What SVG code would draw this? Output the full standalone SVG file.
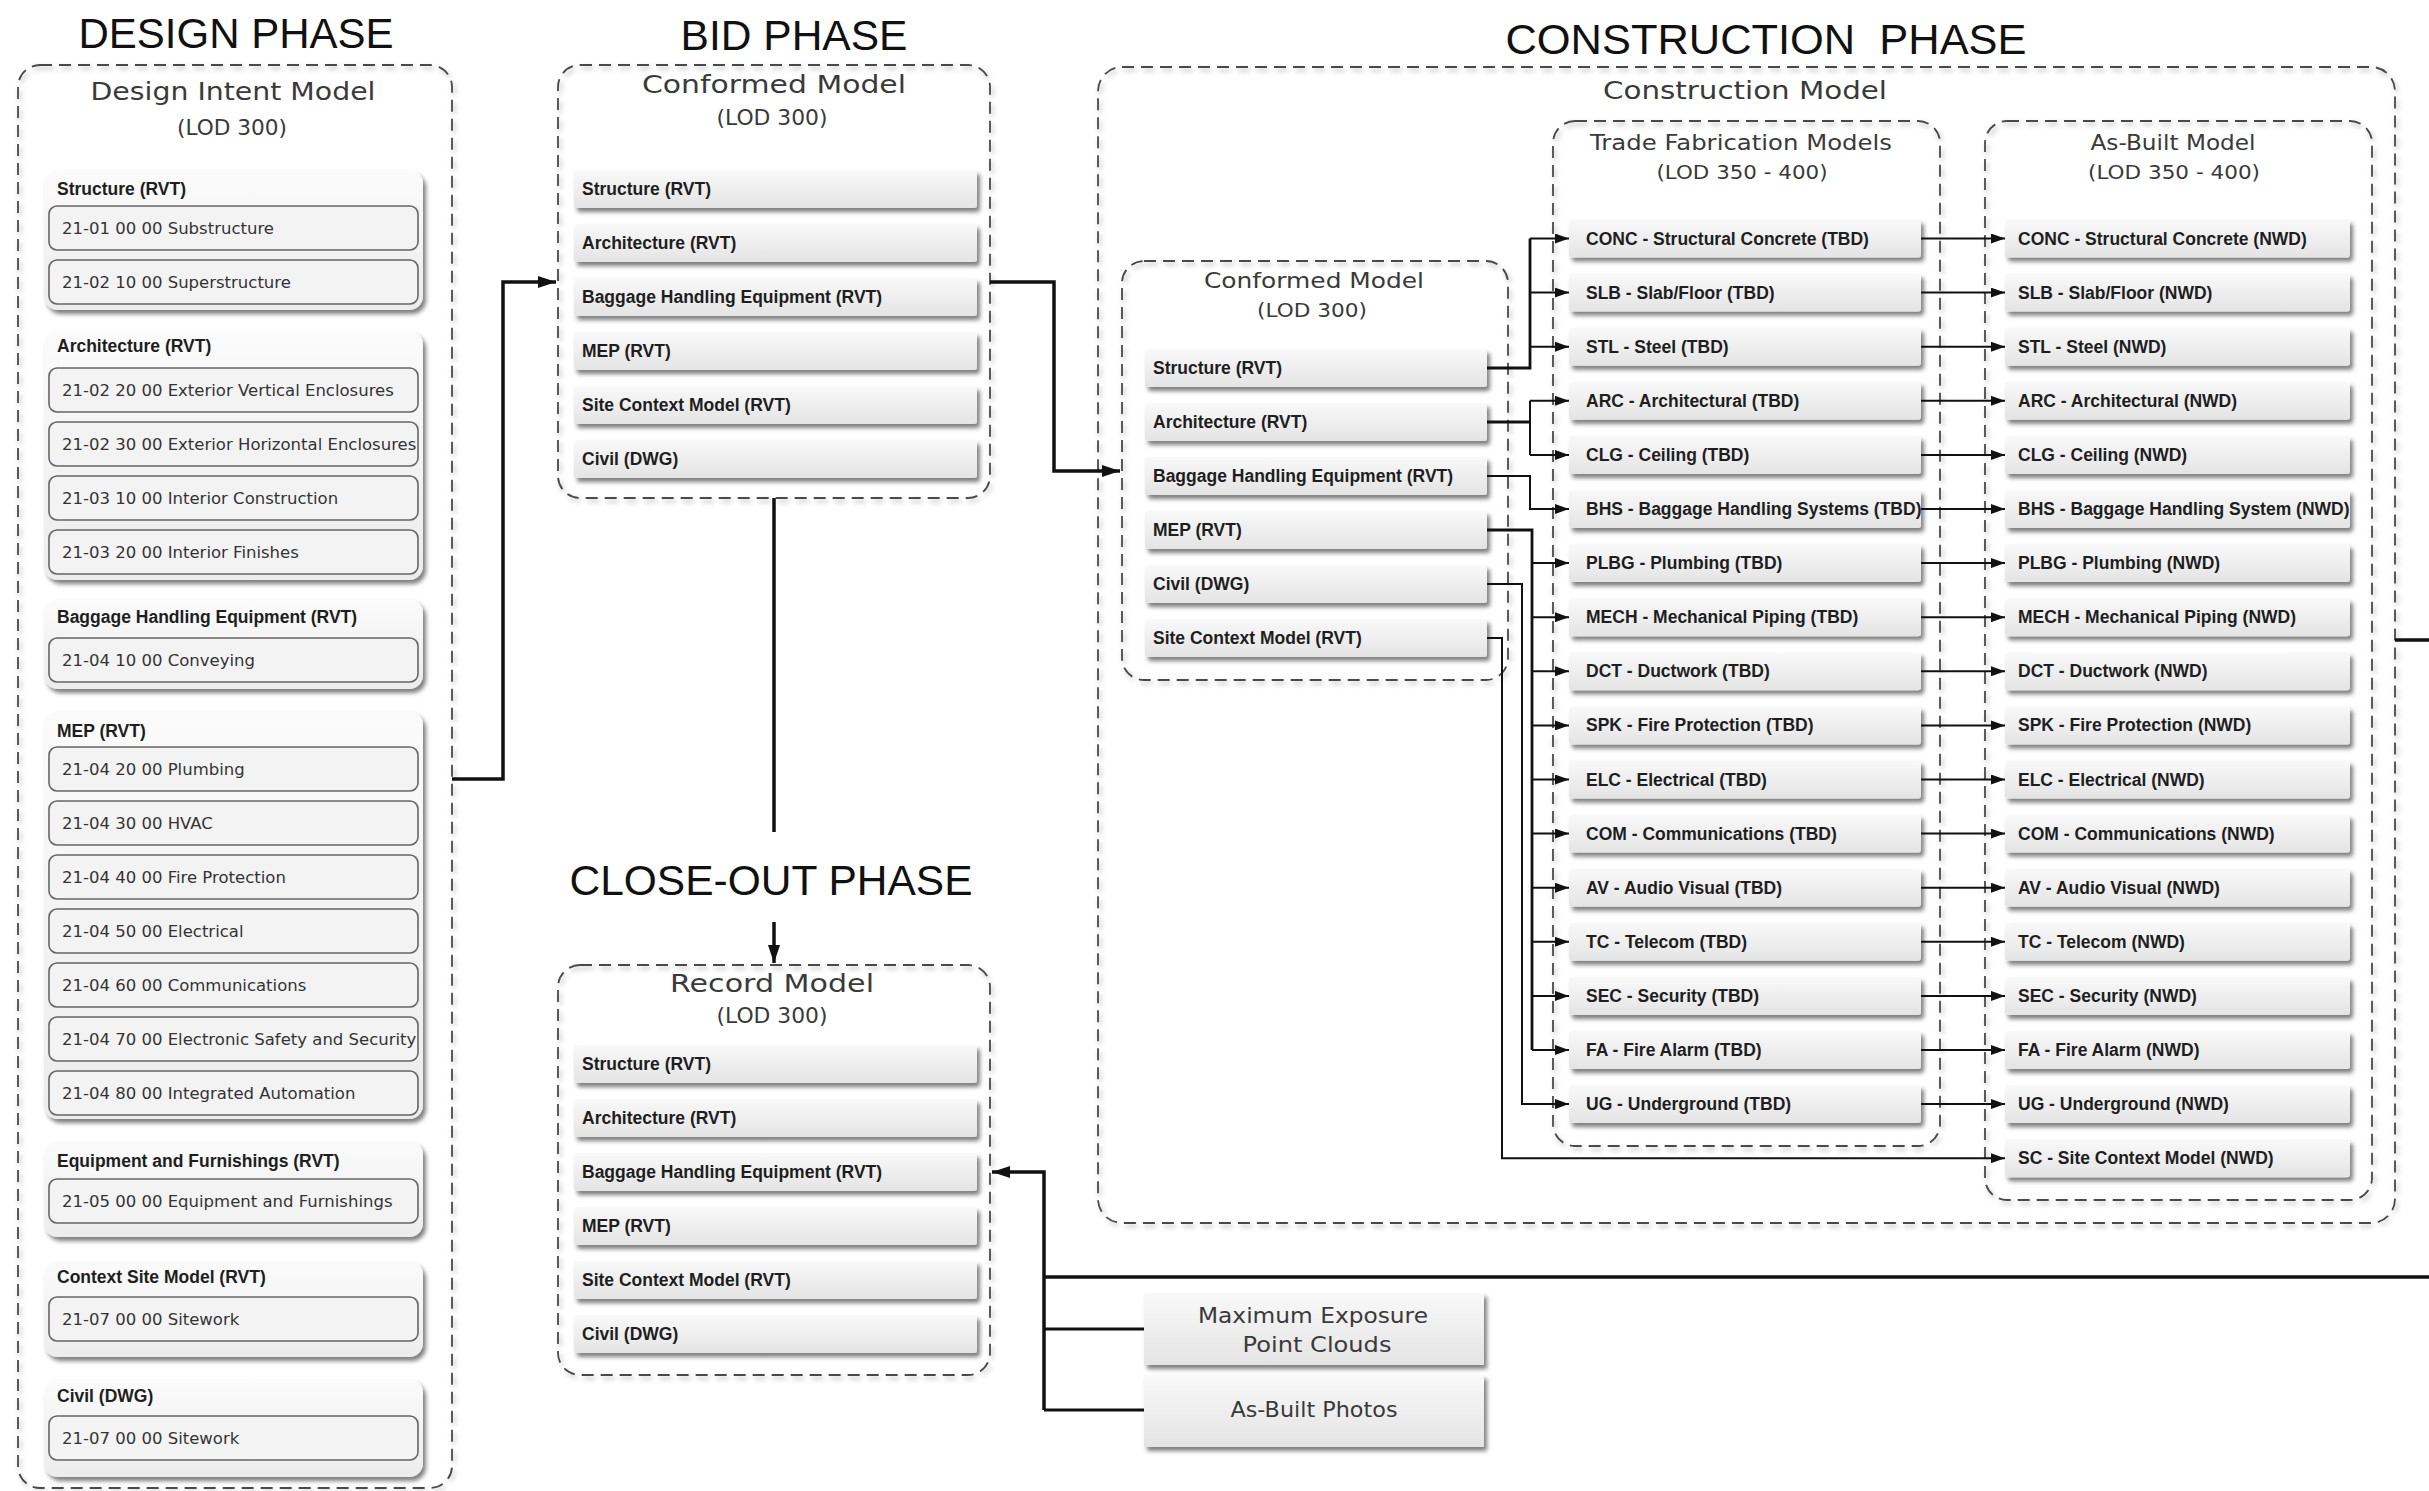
<svg xmlns="http://www.w3.org/2000/svg" width="2429" height="1491" viewBox="0 0 2429 1491">
<defs>
<linearGradient id="rowg" x1="0" y1="0" x2="0" y2="1"><stop offset="0" stop-color="#f9f9f9"/><stop offset="1" stop-color="#e4e4e4"/></linearGradient>
<linearGradient id="grpg" x1="0" y1="0" x2="0" y2="1"><stop offset="0" stop-color="#fbfbfb"/><stop offset="1" stop-color="#ececec"/></linearGradient>
<filter id="sh" x="-5%" y="-20%" width="115%" height="160%"><feDropShadow dx="3" dy="4" stdDeviation="2" flood-color="#000" flood-opacity="0.5"/></filter>
<filter id="dsh" x="-5%" y="-5%" width="110%" height="110%"><feDropShadow dx="2" dy="3" stdDeviation="2.5" flood-color="#000" flood-opacity="0.3"/></filter>
<marker id="arr" markerUnits="userSpaceOnUse" markerWidth="14" markerHeight="10" refX="14" refY="5" orient="auto"><path d="M0,0 L14,5 L0,10 z" fill="#111"/></marker>
<marker id="arrL" markerUnits="userSpaceOnUse" markerWidth="18" markerHeight="12" refX="18" refY="6" orient="auto"><path d="M0,0 L18,6 L0,12 z" fill="#111"/></marker>
<style>
.dash{fill:none;stroke:#4a4a4a;stroke-width:1.8;stroke-dasharray:12 7;filter:url(#dsh)}
.row{fill:url(#rowg);filter:url(#sh)}
.grp{fill:url(#grpg);filter:url(#sh)}
.item{fill:#f3f3f3;stroke:#666;stroke-width:1.6}
.lbl{font-family:"Liberation Sans",Arial,sans-serif;font-weight:bold;font-size:17.5px;fill:#1e1e1e}
.itm{font-family:"DejaVu Sans",sans-serif;font-size:16.5px;fill:#333}
.hdr{font-family:"DejaVu Sans",sans-serif;fill:#3a3a3a;text-anchor:middle}
.ttl{font-family:"Liberation Sans",Arial,sans-serif;font-size:43px;fill:#111;text-anchor:middle}
.ln{fill:none;stroke:#111;stroke-width:2}
.thk{stroke-width:3.5}
.mid{stroke-width:2.8}
</style>
</defs>
<rect width="2429" height="1491" fill="#fff"/>

<!-- Titles -->
<text class="ttl" x="236" y="48" textLength="315" lengthAdjust="spacingAndGlyphs">DESIGN PHASE</text>
<text class="ttl" x="794" y="50" textLength="227" lengthAdjust="spacingAndGlyphs">BID PHASE</text>
<text class="ttl" x="1766" y="54" textLength="521" lengthAdjust="spacingAndGlyphs" xml:space="preserve">CONSTRUCTION  PHASE</text>
<text class="ttl" x="771" y="895" textLength="403" lengthAdjust="spacingAndGlyphs">CLOSE-OUT PHASE</text>

<!-- Design Intent Model -->
<g id="design-intent-model">
<rect class="dash" x="18" y="65" width="434" height="1423" rx="22"/>
<text class="hdr" x="233" y="100" font-size="25" textLength="285" lengthAdjust="spacingAndGlyphs">Design Intent Model</text>
<text class="hdr" x="232" y="135" font-size="22" textLength="110" lengthAdjust="spacingAndGlyphs">(LOD 300)</text>
</g>
<g id="d-structure">
<rect class="grp" x="44" y="170" width="379" height="140" rx="14"/>
<text class="lbl" x="57" y="195">Structure (RVT)</text>
<rect class="item" x="49" y="206" width="369" height="44" rx="8"/><text class="itm" x="62" y="234">21-01 00 00 Substructure</text>
<rect class="item" x="49" y="260" width="369" height="44" rx="8"/><text class="itm" x="62" y="288">21-02 10 00 Superstructure</text>
</g>
<g id="d-architecture">
<rect class="grp" x="44" y="331" width="379" height="249" rx="14"/>
<text class="lbl" x="57" y="352">Architecture (RVT)</text>
<rect class="item" x="49" y="368" width="369" height="44" rx="8"/><text class="itm" x="62" y="396">21-02 20 00 Exterior Vertical Enclosures</text>
<rect class="item" x="49" y="422" width="369" height="44" rx="8"/><text class="itm" x="62" y="450">21-02 30 00 Exterior Horizontal Enclosures</text>
<rect class="item" x="49" y="476" width="369" height="44" rx="8"/><text class="itm" x="62" y="504">21-03 10 00 Interior Construction</text>
<rect class="item" x="49" y="530" width="369" height="44" rx="8"/><text class="itm" x="62" y="558">21-03 20 00 Interior Finishes</text>
</g>
<g id="d-bhe">
<rect class="grp" x="44" y="599" width="379" height="90" rx="14"/>
<text class="lbl" x="57" y="623">Baggage Handling Equipment (RVT)</text>
<rect class="item" x="49" y="638" width="369" height="44" rx="8"/><text class="itm" x="62" y="666">21-04 10 00 Conveying</text>
</g>
<g id="d-mep">
<rect class="grp" x="44" y="711" width="379" height="408" rx="14"/>
<text class="lbl" x="57" y="737">MEP (RVT)</text>
<rect class="item" x="49" y="747" width="369" height="44" rx="8"/><text class="itm" x="62" y="775">21-04 20 00 Plumbing</text>
<rect class="item" x="49" y="801" width="369" height="44" rx="8"/><text class="itm" x="62" y="829">21-04 30 00 HVAC</text>
<rect class="item" x="49" y="855" width="369" height="44" rx="8"/><text class="itm" x="62" y="883">21-04 40 00 Fire Protection</text>
<rect class="item" x="49" y="909" width="369" height="44" rx="8"/><text class="itm" x="62" y="937">21-04 50 00 Electrical</text>
<rect class="item" x="49" y="963" width="369" height="44" rx="8"/><text class="itm" x="62" y="991">21-04 60 00 Communications</text>
<rect class="item" x="49" y="1017" width="369" height="44" rx="8"/><text class="itm" x="62" y="1045">21-04 70 00 Electronic Safety and Security</text>
<rect class="item" x="49" y="1071" width="369" height="44" rx="8"/><text class="itm" x="62" y="1099">21-04 80 00 Integrated Automation</text>
</g>
<g id="d-equipment">
<rect class="grp" x="44" y="1141" width="379" height="96" rx="14"/>
<text class="lbl" x="57" y="1167">Equipment and Furnishings (RVT)</text>
<rect class="item" x="49" y="1179" width="369" height="44" rx="8"/><text class="itm" x="62" y="1207">21-05 00 00 Equipment and Furnishings</text>
</g>
<g id="d-context">
<rect class="grp" x="44" y="1261" width="379" height="96" rx="14"/>
<text class="lbl" x="57" y="1283">Context Site Model (RVT)</text>
<rect class="item" x="49" y="1297" width="369" height="44" rx="8"/><text class="itm" x="62" y="1325">21-07 00 00 Sitework</text>
</g>
<g id="d-civil">
<rect class="grp" x="44" y="1379" width="379" height="98" rx="14"/>
<text class="lbl" x="57" y="1402">Civil (DWG)</text>
<rect class="item" x="49" y="1416" width="369" height="44" rx="8"/><text class="itm" x="62" y="1444">21-07 00 00 Sitework</text>
</g>

<!-- Bid phase -->
<g id="bid-conformed-model">
<rect class="dash" x="558" y="65" width="432" height="433" rx="22"/>
<text class="hdr" x="774" y="93" font-size="25" textLength="264" lengthAdjust="spacingAndGlyphs">Conformed Model</text>
<text class="hdr" x="772" y="125" font-size="22" textLength="111" lengthAdjust="spacingAndGlyphs">(LOD 300)</text>
</g>
<g id="b-structure"><rect class="row" x="574" y="170" width="403" height="38" rx="3"/><text class="lbl" x="582" y="195">Structure (RVT)</text></g>
<g id="b-architecture"><rect class="row" x="574" y="224" width="403" height="38" rx="3"/><text class="lbl" x="582" y="249">Architecture (RVT)</text></g>
<g id="b-bhe"><rect class="row" x="574" y="278" width="403" height="38" rx="3"/><text class="lbl" x="582" y="303">Baggage Handling Equipment (RVT)</text></g>
<g id="b-mep"><rect class="row" x="574" y="332" width="403" height="38" rx="3"/><text class="lbl" x="582" y="357">MEP (RVT)</text></g>
<g id="b-site"><rect class="row" x="574" y="386" width="403" height="38" rx="3"/><text class="lbl" x="582" y="411">Site Context Model (RVT)</text></g>
<g id="b-civil"><rect class="row" x="574" y="440" width="403" height="38" rx="3"/><text class="lbl" x="582" y="465">Civil (DWG)</text></g>

<!-- Close-out phase -->
<g id="record-model">
<rect class="dash" x="558" y="965" width="432" height="410" rx="22"/>
<text class="hdr" x="772" y="992" font-size="25" textLength="204" lengthAdjust="spacingAndGlyphs">Record Model</text>
<text class="hdr" x="772" y="1023" font-size="22" textLength="111" lengthAdjust="spacingAndGlyphs">(LOD 300)</text>
</g>
<g id="r-structure"><rect class="row" x="574" y="1045" width="403" height="38" rx="3"/><text class="lbl" x="582" y="1070">Structure (RVT)</text></g>
<g id="r-architecture"><rect class="row" x="574" y="1099" width="403" height="38" rx="3"/><text class="lbl" x="582" y="1124">Architecture (RVT)</text></g>
<g id="r-bhe"><rect class="row" x="574" y="1153" width="403" height="38" rx="3"/><text class="lbl" x="582" y="1178">Baggage Handling Equipment (RVT)</text></g>
<g id="r-mep"><rect class="row" x="574" y="1207" width="403" height="38" rx="3"/><text class="lbl" x="582" y="1232">MEP (RVT)</text></g>
<g id="r-site"><rect class="row" x="574" y="1261" width="403" height="38" rx="3"/><text class="lbl" x="582" y="1286">Site Context Model (RVT)</text></g>
<g id="r-civil"><rect class="row" x="574" y="1315" width="403" height="38" rx="3"/><text class="lbl" x="582" y="1340">Civil (DWG)</text></g>

<g id="point-clouds"><rect class="row" x="1144" y="1293" width="340" height="72"/>
<text class="hdr" x="1313" y="1323" font-size="21" textLength="230" lengthAdjust="spacingAndGlyphs">Maximum Exposure</text>
<text class="hdr" x="1317" y="1352" font-size="21" textLength="149" lengthAdjust="spacingAndGlyphs">Point Clouds</text></g>
<g id="as-built-photos"><rect class="row" x="1144" y="1375" width="340" height="72"/>
<text class="hdr" x="1314" y="1417" font-size="21" textLength="167" lengthAdjust="spacingAndGlyphs">As-Built Photos</text></g>

<!-- Construction phase -->
<g id="construction-model">
<rect class="dash" x="1098" y="67" width="1297" height="1156" rx="24"/>
<text class="hdr" x="1745" y="99" font-size="24" textLength="284" lengthAdjust="spacingAndGlyphs">Construction Model</text>
</g>
<g id="c-conformed-model">
<rect class="dash" x="1122" y="261" width="386" height="419" rx="22"/>
<text class="hdr" x="1314" y="288" font-size="22" textLength="220" lengthAdjust="spacingAndGlyphs">Conformed Model</text>
<text class="hdr" x="1312" y="317" font-size="20" textLength="110" lengthAdjust="spacingAndGlyphs">(LOD 300)</text>
</g>
<g id="c-structure"><rect class="row" x="1145" y="349" width="342" height="38" rx="3"/><text class="lbl" x="1153" y="374">Structure (RVT)</text></g>
<g id="c-architecture"><rect class="row" x="1145" y="403" width="342" height="38" rx="3"/><text class="lbl" x="1153" y="428">Architecture (RVT)</text></g>
<g id="c-bhe"><rect class="row" x="1145" y="457" width="342" height="38" rx="3"/><text class="lbl" x="1153" y="482">Baggage Handling Equipment (RVT)</text></g>
<g id="c-mep"><rect class="row" x="1145" y="511" width="342" height="38" rx="3"/><text class="lbl" x="1153" y="536">MEP (RVT)</text></g>
<g id="c-civil"><rect class="row" x="1145" y="565" width="342" height="38" rx="3"/><text class="lbl" x="1153" y="590">Civil (DWG)</text></g>
<g id="c-site"><rect class="row" x="1145" y="619" width="342" height="38" rx="3"/><text class="lbl" x="1153" y="644">Site Context Model (RVT)</text></g>

<g id="trade-fabrication-models">
<rect class="dash" x="1553" y="121" width="387" height="1025" rx="22"/>
<text class="hdr" x="1741" y="150" font-size="22" textLength="302" lengthAdjust="spacingAndGlyphs">Trade Fabrication Models</text>
<text class="hdr" x="1742" y="179" font-size="20" textLength="171" lengthAdjust="spacingAndGlyphs">(LOD 350 - 400)</text>
</g>
<g id="t-conc"><rect class="row" x="1569" y="219.5" width="352" height="38" rx="3"/><text class="lbl" x="1586" y="244.5">CONC - Structural Concrete (TBD)</text></g>
<g id="t-slb"><rect class="row" x="1569" y="273.6" width="352" height="38" rx="3"/><text class="lbl" x="1586" y="298.6">SLB - Slab/Floor (TBD)</text></g>
<g id="t-stl"><rect class="row" x="1569" y="327.7" width="352" height="38" rx="3"/><text class="lbl" x="1586" y="352.7">STL - Steel (TBD)</text></g>
<g id="t-arc"><rect class="row" x="1569" y="381.8" width="352" height="38" rx="3"/><text class="lbl" x="1586" y="406.8">ARC - Architectural (TBD)</text></g>
<g id="t-clg"><rect class="row" x="1569" y="435.9" width="352" height="38" rx="3"/><text class="lbl" x="1586" y="460.9">CLG - Ceiling (TBD)</text></g>
<g id="t-bhs"><rect class="row" x="1569" y="490" width="352" height="38" rx="3"/><text class="lbl" x="1586" y="515">BHS - Baggage Handling Systems (TBD)</text></g>
<g id="t-plbg"><rect class="row" x="1569" y="544.1" width="352" height="38" rx="3"/><text class="lbl" x="1586" y="569.1">PLBG - Plumbing (TBD)</text></g>
<g id="t-mech"><rect class="row" x="1569" y="598.2" width="352" height="38" rx="3"/><text class="lbl" x="1586" y="623.2">MECH - Mechanical Piping (TBD)</text></g>
<g id="t-dct"><rect class="row" x="1569" y="652.3" width="352" height="38" rx="3"/><text class="lbl" x="1586" y="677.3">DCT - Ductwork (TBD)</text></g>
<g id="t-spk"><rect class="row" x="1569" y="706.4" width="352" height="38" rx="3"/><text class="lbl" x="1586" y="731.4">SPK - Fire Protection (TBD)</text></g>
<g id="t-elc"><rect class="row" x="1569" y="760.5" width="352" height="38" rx="3"/><text class="lbl" x="1586" y="785.5">ELC - Electrical (TBD)</text></g>
<g id="t-com"><rect class="row" x="1569" y="814.6" width="352" height="38" rx="3"/><text class="lbl" x="1586" y="839.6">COM - Communications (TBD)</text></g>
<g id="t-av"><rect class="row" x="1569" y="868.7" width="352" height="38" rx="3"/><text class="lbl" x="1586" y="893.7">AV - Audio Visual (TBD)</text></g>
<g id="t-tc"><rect class="row" x="1569" y="922.8" width="352" height="38" rx="3"/><text class="lbl" x="1586" y="947.8">TC - Telecom (TBD)</text></g>
<g id="t-sec"><rect class="row" x="1569" y="976.9" width="352" height="38" rx="3"/><text class="lbl" x="1586" y="1001.9">SEC - Security (TBD)</text></g>
<g id="t-fa"><rect class="row" x="1569" y="1031" width="352" height="38" rx="3"/><text class="lbl" x="1586" y="1056">FA - Fire Alarm (TBD)</text></g>
<g id="t-ug"><rect class="row" x="1569" y="1085.1" width="352" height="38" rx="3"/><text class="lbl" x="1586" y="1110.1">UG - Underground (TBD)</text></g>

<g id="as-built-model">
<rect class="dash" x="1985" y="121" width="387" height="1079" rx="22"/>
<text class="hdr" x="2173" y="150" font-size="22" textLength="165" lengthAdjust="spacingAndGlyphs">As-Built Model</text>
<text class="hdr" x="2174" y="179" font-size="20" textLength="172" lengthAdjust="spacingAndGlyphs">(LOD 350 - 400)</text>
</g>
<g id="a-conc"><rect class="row" x="2005" y="219.5" width="345" height="38" rx="3"/><text class="lbl" x="2018" y="244.5">CONC - Structural Concrete (NWD)</text></g>
<g id="a-slb"><rect class="row" x="2005" y="273.6" width="345" height="38" rx="3"/><text class="lbl" x="2018" y="298.6">SLB - Slab/Floor (NWD)</text></g>
<g id="a-stl"><rect class="row" x="2005" y="327.7" width="345" height="38" rx="3"/><text class="lbl" x="2018" y="352.7">STL - Steel (NWD)</text></g>
<g id="a-arc"><rect class="row" x="2005" y="381.8" width="345" height="38" rx="3"/><text class="lbl" x="2018" y="406.8">ARC - Architectural (NWD)</text></g>
<g id="a-clg"><rect class="row" x="2005" y="435.9" width="345" height="38" rx="3"/><text class="lbl" x="2018" y="460.9">CLG - Ceiling (NWD)</text></g>
<g id="a-bhs"><rect class="row" x="2005" y="490" width="345" height="38" rx="3"/><text class="lbl" x="2018" y="515">BHS - Baggage Handling System (NWD)</text></g>
<g id="a-plbg"><rect class="row" x="2005" y="544.1" width="345" height="38" rx="3"/><text class="lbl" x="2018" y="569.1">PLBG - Plumbing (NWD)</text></g>
<g id="a-mech"><rect class="row" x="2005" y="598.2" width="345" height="38" rx="3"/><text class="lbl" x="2018" y="623.2">MECH - Mechanical Piping (NWD)</text></g>
<g id="a-dct"><rect class="row" x="2005" y="652.3" width="345" height="38" rx="3"/><text class="lbl" x="2018" y="677.3">DCT - Ductwork (NWD)</text></g>
<g id="a-spk"><rect class="row" x="2005" y="706.4" width="345" height="38" rx="3"/><text class="lbl" x="2018" y="731.4">SPK - Fire Protection (NWD)</text></g>
<g id="a-elc"><rect class="row" x="2005" y="760.5" width="345" height="38" rx="3"/><text class="lbl" x="2018" y="785.5">ELC - Electrical (NWD)</text></g>
<g id="a-com"><rect class="row" x="2005" y="814.6" width="345" height="38" rx="3"/><text class="lbl" x="2018" y="839.6">COM - Communications (NWD)</text></g>
<g id="a-av"><rect class="row" x="2005" y="868.7" width="345" height="38" rx="3"/><text class="lbl" x="2018" y="893.7">AV - Audio Visual (NWD)</text></g>
<g id="a-tc"><rect class="row" x="2005" y="922.8" width="345" height="38" rx="3"/><text class="lbl" x="2018" y="947.8">TC - Telecom (NWD)</text></g>
<g id="a-sec"><rect class="row" x="2005" y="976.9" width="345" height="38" rx="3"/><text class="lbl" x="2018" y="1001.9">SEC - Security (NWD)</text></g>
<g id="a-fa"><rect class="row" x="2005" y="1031" width="345" height="38" rx="3"/><text class="lbl" x="2018" y="1056">FA - Fire Alarm (NWD)</text></g>
<g id="a-ug"><rect class="row" x="2005" y="1085.1" width="345" height="38" rx="3"/><text class="lbl" x="2018" y="1110.1">UG - Underground (NWD)</text></g>
<g id="a-sc"><rect class="row" x="2005" y="1139.2" width="345" height="38" rx="3"/><text class="lbl" x="2018" y="1164.2">SC - Site Context Model (NWD)</text></g>

<!-- Connectors -->
<g id="connectors">
<path class="ln thk" d="M452,779 H503 V282 H556" marker-end="url(#arrL)"/>
<path class="ln thk" d="M990,282 H1054 V471 H1120" marker-end="url(#arrL)"/>
<path class="ln thk" d="M774,498 V832"/>
<path class="ln thk" d="M774,922 V963" marker-end="url(#arrL)"/>
<path class="ln thk" d="M1044,1410 V1172 H992" marker-end="url(#arrL)"/>
<path class="ln thk" d="M2429,1277 H1044"/>
<path class="ln mid" d="M1044,1329 H1144"/>
<path class="ln mid" d="M1044,1410 H1144"/>
<path class="ln thk" d="M2395,640 H2429"/>

<path class="ln mid" d="M1487,368 H1530 V238.5"/>
<path class="ln" d="M1530,238.5 H1569" marker-end="url(#arr)"/>
<path class="ln" d="M1530,292.6 H1569" marker-end="url(#arr)"/>
<path class="ln" d="M1530,346.7 H1569" marker-end="url(#arr)"/>
<path class="ln mid" d="M1487,422 H1530"/>
<path class="ln" d="M1530,400.8 V454.9"/>
<path class="ln" d="M1530,400.8 H1569" marker-end="url(#arr)"/>
<path class="ln" d="M1530,454.9 H1569" marker-end="url(#arr)"/>
<path class="ln" d="M1487,476 H1530 V509 H1569" marker-end="url(#arr)"/>
<path class="ln mid" d="M1487,530 H1532 V1050"/>
<path class="ln" d="M1532,563.1 H1569" marker-end="url(#arr)"/>
<path class="ln" d="M1532,617.2 H1569" marker-end="url(#arr)"/>
<path class="ln" d="M1532,671.3 H1569" marker-end="url(#arr)"/>
<path class="ln" d="M1532,725.4 H1569" marker-end="url(#arr)"/>
<path class="ln" d="M1532,779.5 H1569" marker-end="url(#arr)"/>
<path class="ln" d="M1532,833.6 H1569" marker-end="url(#arr)"/>
<path class="ln" d="M1532,887.7 H1569" marker-end="url(#arr)"/>
<path class="ln" d="M1532,941.8 H1569" marker-end="url(#arr)"/>
<path class="ln" d="M1532,995.9 H1569" marker-end="url(#arr)"/>
<path class="ln" d="M1532,1050 H1569" marker-end="url(#arr)"/>
<path class="ln" d="M1487,584 H1522 V1104.1 H1569" marker-end="url(#arr)"/>
<path class="ln" d="M1487,638 H1502 V1158.2 H2005" marker-end="url(#arr)"/>

<path class="ln" d="M1921,238.5 H2005" marker-end="url(#arr)"/>
<path class="ln" d="M1921,292.6 H2005" marker-end="url(#arr)"/>
<path class="ln" d="M1921,346.7 H2005" marker-end="url(#arr)"/>
<path class="ln" d="M1921,400.8 H2005" marker-end="url(#arr)"/>
<path class="ln" d="M1921,454.9 H2005" marker-end="url(#arr)"/>
<path class="ln" d="M1921,509 H2005" marker-end="url(#arr)"/>
<path class="ln" d="M1921,563.1 H2005" marker-end="url(#arr)"/>
<path class="ln" d="M1921,617.2 H2005" marker-end="url(#arr)"/>
<path class="ln" d="M1921,671.3 H2005" marker-end="url(#arr)"/>
<path class="ln" d="M1921,725.4 H2005" marker-end="url(#arr)"/>
<path class="ln" d="M1921,779.5 H2005" marker-end="url(#arr)"/>
<path class="ln" d="M1921,833.6 H2005" marker-end="url(#arr)"/>
<path class="ln" d="M1921,887.7 H2005" marker-end="url(#arr)"/>
<path class="ln" d="M1921,941.8 H2005" marker-end="url(#arr)"/>
<path class="ln" d="M1921,995.9 H2005" marker-end="url(#arr)"/>
<path class="ln" d="M1921,1050 H2005" marker-end="url(#arr)"/>
<path class="ln" d="M1921,1104.1 H2005" marker-end="url(#arr)"/>
</g>
</svg>
